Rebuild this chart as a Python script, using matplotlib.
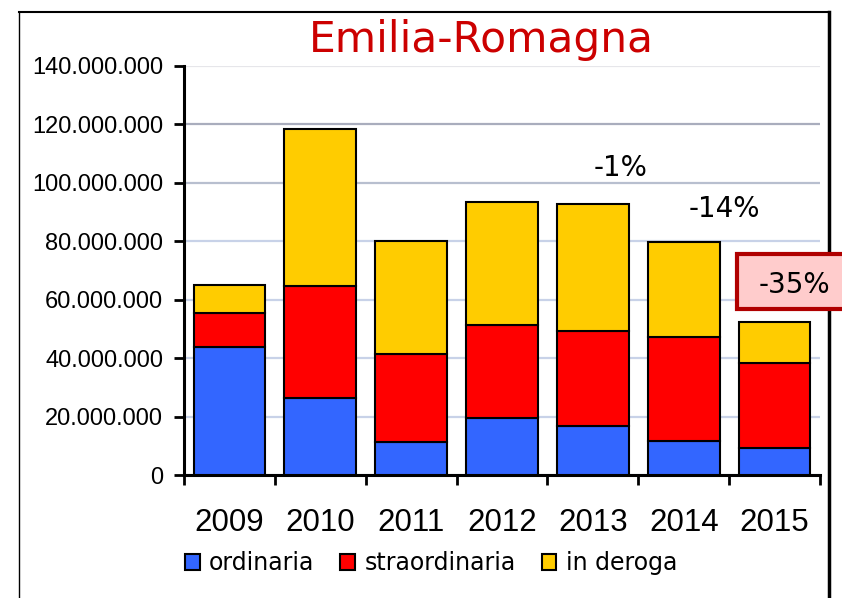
import matplotlib
matplotlib.use("Agg")
import matplotlib.pyplot as plt
from matplotlib.lines import Line2D
from matplotlib.patches import Rectangle
import numpy as np

# Values (euro, stacked)
years = ["2009", "2010", "2011", "2012", "2013", "2014", "2015"]
ordinaria = [43.7e6, 26.2e6, 11.2e6, 19.4e6, 16.8e6, 11.6e6, 9.4e6]
straordinaria = [11.9e6, 38.6e6, 30.2e6, 31.9e6, 32.5e6, 35.6e6, 28.8e6]
in_deroga = [9.3e6, 53.8e6, 38.6e6, 42.3e6, 43.3e6, 32.6e6, 14.2e6]
series_names = ["ordinaria", "straordinaria", "in deroga"]
series_colors = ["#3366ff", "#ff0000", "#ffcc00"]
y_ticks = [0, 20e6, 40e6, 60e6, 80e6, 100e6, 120e6, 140e6]
y_labels = ["0", "20.000.000", "40.000.000", "60.000.000", "80.000.000",
            "100.000.000", "120.000.000", "140.000.000"]
changes = ["-1%", "-14%", "-35%"]
change_pos = [(4.30, 105.1e6), (5.45, 91.1e6), (6.22, 65.0e6)]

W, H = 842, 598
fig = plt.figure(figsize=(W / 100, H / 100), dpi=100)
ax = fig.add_axes([184 / W, 1 - 475 / H, (820 - 184) / W, (475 - 66) / H])

x = np.arange(len(years))
bottom = np.zeros(len(years))
handles = []
for vals, name, col in zip([ordinaria, straordinaria, in_deroga], series_names, series_colors):
    b = ax.bar(x, vals, width=0.79, bottom=bottom, color=col, edgecolor="black",
               linewidth=1.5, label=name, zorder=3)
    handles.append(b)
    bottom += np.array(vals)

ax.set_xlim(-0.5, len(years) - 0.5)
ax.set_ylim(0, 140e6)

# y axis
ax.set_yticks(y_ticks)
ax.set_yticklabels(y_labels, family="Liberation Sans", fontsize=17)
ax.tick_params(axis="y", direction="out", length=7, width=2, pad=8)
ax.yaxis.grid(True, color="#c8d2e8", linewidth=1.6, zorder=0)
gl = ax.get_ygridlines()
gl[-1].set_color("#e6e6ea")
gl[-2].set_color("#a9adbd")
gl[-3].set_color("#b8bfcf")
ax.set_axisbelow(True)

# x axis: ticks at boundaries, labels at centres
ax.set_xticks(np.arange(len(years) + 1) - 0.5)
ax.set_xticklabels([])
ax.tick_params(axis="x", which="major", direction="out", length=7, width=2)
ax.set_xticks(x, minor=True)
ax.set_xticklabels(years, minor=True, family="Liberation Sans", fontsize=22.5)
ax.tick_params(axis="x", which="minor", length=0, pad=24)

for s in ["top", "right"]:
    ax.spines[s].set_visible(False)
for s in ["left", "bottom"]:
    ax.spines[s].set_linewidth(2.2)

# title
fig.text(481 / W, 1 - 40 / H, "Emilia-Romagna", color="#cc0000", fontsize=30.5,
         ha="center", va="center", family="DejaVu Sans")

# change labels
for (xi, yi), txt in zip(change_pos[:2], changes[:2]):
    ax.text(xi, yi, txt, fontsize=20, ha="center", va="center", family="DejaVu Sans", zorder=5)
# highlighted box for the last one (runs past the frame on the right)
ax.add_patch(Rectangle((5.59, 56.8e6), 1.3, 18.8e6, facecolor="#ffcccc", edgecolor="#b00000",
                       linewidth=3, clip_on=False, zorder=6))
ax.text(change_pos[2][0], change_pos[2][1], changes[2], fontsize=20, ha="center", va="center",
        family="DejaVu Sans", zorder=7, clip_on=False)

# legend
fig.legend(handles=handles, labels=series_names, loc="center",
           bbox_to_anchor=(431 / W, 1 - 563 / H), ncol=3, frameon=False,
           prop={"family": "DejaVu Sans", "size": 17}, handlelength=0.62,
           handleheight=0.65, handletextpad=0.4, columnspacing=1.1)

# outer frame (behind the axes so the box covers it)
fig.add_artist(Line2D([19 / W, 19 / W], [0, 1 - 12 / H], color="black", lw=1, zorder=-1))
fig.add_artist(Line2D([19 / W, 829 / W], [1 - 12 / H, 1 - 12 / H], color="black", lw=1.5, zorder=-1))
fig.add_artist(Line2D([829 / W, 829 / W], [0, 1 - 12 / H], color="black", lw=2.5, zorder=-1))

fig.savefig("out.png", dpi=100)
